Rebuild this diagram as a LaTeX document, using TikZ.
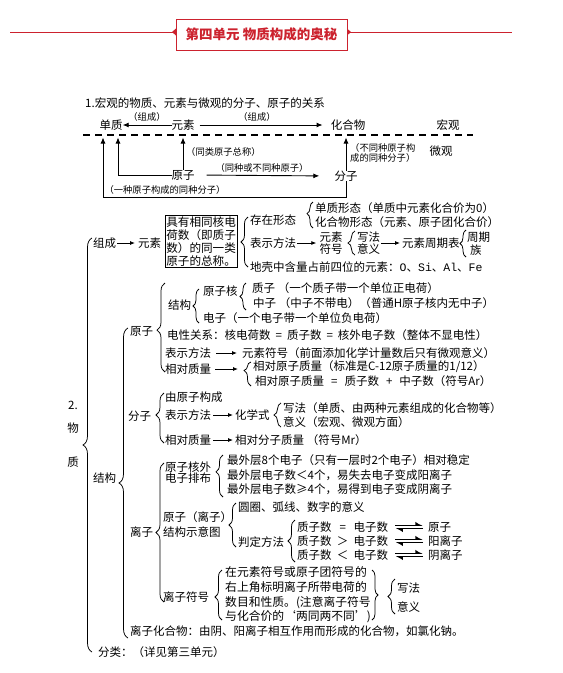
\documentclass[tikz,border=0pt]{standalone}
\usepackage{fontspec}
\newfontfamily\cjk{Noto Sans CJK SC}
\newfontfamily\lmono{Liberation Mono}
\usetikzlibrary{arrows.meta,decorations.pathreplacing}
\definecolor{tred}{RGB}{204,34,46}
\begin{document}
\begin{tikzpicture}[x=1pt,y=-1pt,
  txt/.style={anchor=west,inner sep=0pt,font=\cjk\fontsize{11.5}{13}\selectfont},
  ctr/.style={inner sep=0pt,font=\cjk\fontsize{11.5}{13}\selectfont},
  sml/.style={inner sep=0pt,font=\cjk\fontsize{9.3}{10.5}\selectfont},
  arr/.style={-{Latex[length=5pt,width=4pt]},line width=0.8pt},
  arrA/.style={-{Latex[length=6pt,width=5pt]},line width=0.9pt},
  eqa/.style={-{Latex[left,length=6pt,width=7pt]},line width=1.2pt},
  brc/.style={decorate,decoration={brace,amplitude=#1},line width=0.75pt},
  brc/.default=7pt]
\useasboundingbox (0,0) rectangle (563,673);
\fill[white] (0,0) rectangle (563,673);

% ---------- title ----------
\node[draw=tred,line width=0.9pt,minimum width=171pt,minimum height=31pt,inner sep=0pt,
  text=tred,font=\cjk\bfseries\fontsize{13.5}{15}\selectfont] (title) at (261.5,34.5) {第四单元 物质构成的奥秘};
\coordinate (tl) at (10,32);
\coordinate (tr) at (512,32);
\draw[tred,line width=0.8pt] (tl) -- ([yshift=2.5pt]title.west);
\draw[tred,line width=0.8pt] ([yshift=2.5pt]title.east) -- (tr);
\fill[tred] (176,28.5) -- (172,32) -- (176,35.5) -- cycle;
\fill[tred] (347,28.5) -- (351,32) -- (347,35.5) -- cycle;

% ---------- section 1 ----------
\node[txt] (h1) at (85,103) {1.宏观的物质、元素与微观的分子、原子的关系};
\node[ctr] (dz) at (111,125) {单质};
\node[ctr] (ys1) at (183,125) {元素};
\node[ctr] (hhw) at (348,125) {化合物};
\node[ctr] (hg) at (448,125) {宏观};
\node[ctr] (wg) at (441,151) {微观};
\node[sml] (zc1) at (147,117) {（组成）};
\node[sml] (zc2) at (257,117) {（组成）};
\coordinate (dl1) at (83,135);
\coordinate (dl2) at (473,135);
\draw[line width=1.4pt,dash pattern=on 7pt off 5pt] (dl1) -- (dl2);
\draw[arrA,shorten <=-1pt,shorten >=0pt] (ys1.west) -- (dz.east);
\draw[arrA,shorten <=5pt,shorten >=8pt] (ys1.east) -- (hhw.west);

\node[ctr] (yz) at (183,175) {原子};
\node[ctr] (fz) at (346,176) {分子};
\node[sml,anchor=west] (tlz) at (186,152) {（同类原子总称）};
\node[sml] (tzb) at (262,168) {（同种或不同种原子）};
\node[sml,anchor=west,align=left] (btz) at (350,153) {（不同种原子构\\成的同种分子）};
\node[sml] (yzg) at (165,190) {（一种原子构成的同种分子）};
\coordinate (u1) at (118,137.5);
\coordinate (u2) at (103,137.5);
\coordinate (b2) at (103,197);
\coordinate (u3) at (183,137.5);
\coordinate (u4) at (346,137.5);
\draw[arrA] (yz.north) -- (u3);
\draw[arrA,shorten <=-1pt] (yz.west) -| (u1);
\draw[arrA,shorten <=12pt,shorten >=15pt] (yz.east) -- (fz.west);
\draw[arrA] (fz.north) -- (u4);
\draw[arrA] (fz.south) |- (b2) -- (u2);

% ---------- section 2 ----------
\node[ctr] (n2) at (73,405) {2.};
\node[ctr] (nw) at (73,428) {物};
\node[ctr] (nz) at (73,462) {质};
\draw[brc=9pt] (92,652) -- (92,238);

% 组成 -> 元素
\node[txt] (zc) at (93,243) {组成};
\node[txt] (ys2) at (138,243) {元素};
\draw[arr,shorten <=1pt,shorten >=3pt] (zc.east) -- (ys2.west);
\node[draw,line width=0.6pt,inner sep=1pt,align=left,anchor=west,
  font=\cjk\fontsize{11.6}{13.2}\selectfont] (def) at (165,241.5) {具有相同核电\\荷数（即质子\\数）的同一类\\原子的总称。};
\draw[brc=7pt] (248,267) -- (248,217);
\node[txt] (czxt) at (250,220) {存在形态};
\draw[brc=6pt,decoration={aspect=0.55}] (313,228) -- (313,202);
\node[txt] (dzxt) at (315,208) {单质形态（单质中元素化合价为0）};
\node[txt] (hxt) at (315,222) {化合物形态（元素、原子团化合价）};
\node[txt] (bsff1) at (250,243) {表示方法};
\node[ctr,align=center,font=\cjk\fontsize{11.5}{11.5}\selectfont] (ysfh) at (331,243) {元素\\符号};
\draw[arr,shorten <=1pt,shorten >=3pt] (bsff1.east) -- (ysfh.west);
\draw[brc=7pt] (355,255) -- (355,231);
\node[txt,align=left,font=\cjk\fontsize{11.5}{11.5}\selectfont] (xfyy1) at (357,243) {写法\\意义};
\node[txt] (zqb) at (402,243) {元素周期表};
\draw[arr,shorten <=1pt,shorten >=2pt] (xfyy1.east) -- (zqb.west);
\draw[brc=6pt] (466,257) -- (466,230);
\node[txt] (zq) at (467,237) {周期};
\node[txt] (zu) at (470,250) {族};
\node[txt] (dq) at (250,267) {地壳中含量占前四位的元素：{\lmono O}、{\lmono Si}、{\lmono Al}、{\lmono Fe}};

% 结构
\node[txt] (jg) at (93,478) {结构};
\draw[brc=9pt] (128,638) -- (128,328);

% 原子
\node[txt] (yz2) at (130,331) {原子};
\draw[brc=8pt,decoration={aspect=0.47}] (165,372) -- (165,283);
\node[txt] (jg2) at (168,305) {结构};
\draw[brc=6pt] (199,323) -- (199,289);
\node[txt] (yzh) at (203,291) {原子核};
\draw[brc=6pt] (246,310) -- (246,283);
\node[txt] (zz) at (252,288) {质子 （一个质子带一个单位正电荷）};
\node[txt] (zhz) at (253,303) {中子 （中子不带电）（普通H原子核内无中子）};
\node[txt] (dzz) at (203,318) {电子（一个电子带一个单位负电荷）};
\node[txt] (dxgx) at (167,335) {电性关系：核电荷数\hspace{5pt}=\hspace{5pt}质子数\hspace{5pt}=\hspace{5pt}核外电子数（整体不显电性）};
\node[txt] (bsff2) at (165,353) {表示方法};
\node[txt] (ysfh2) at (242,353) {元素符号（前面添加化学计量数后只有微观意义）};
\draw[arr,shorten <=5pt,shorten >=5pt] (bsff2.east) -- (ysfh2.west);
\node[txt] (xdzl1) at (165,369) {相对质量};
\coordinate (bt1) at (238,369);
\draw[arr,shorten <=4pt] (xdzl1.east) -- (bt1);
\draw[brc=7pt,decoration={aspect=0.65}] (251,386) -- (251,362);
\node[txt] (xdyz1) at (253,367) {相对原子质量（标准是C-12原子质量的1/12）};
\node[txt] (xdyz2) at (255,381) {相对原子质量\hspace{7pt}=\hspace{7pt}质子数\hspace{7pt}+\hspace{7pt}中子数（符号Ar）};

% 分子
\node[txt] (fz2) at (128,416) {分子};
\draw[brc=8pt,decoration={aspect=0.56}] (164,443) -- (164,393);
\node[txt] (yyzgc) at (165,397) {由原子构成};
\node[txt] (bsff3) at (165,415) {表示方法};
\node[txt] (hxs) at (235,415) {化学式};
\draw[arr,shorten <=2pt,shorten >=2pt] (bsff3.east) -- (hxs.west);
\draw[brc=7pt] (281,427) -- (281,403);
\node[txt] (xf3) at (283,408) {写法（单质、由两种元素组成的化合物等）};
\node[txt] (yy3) at (283,422) {意义（宏观、微观方面）};
\node[txt] (xdzl2) at (165,440) {相对质量};
\node[txt] (xdfz) at (235,440) {相对分子质量 （符号Mr）};
\draw[arr,shorten <=2pt,shorten >=2pt] (xdzl2.east) -- (xdfz.west);

% 离子
\node[txt] (lz) at (130,532) {离子};
\draw[brc=8pt] (164,602) -- (164,463);
\node[txt,align=left,font=\cjk\fontsize{11.5}{11.5}\selectfont] (hw) at (165,472.5) {原子核外\\电子排布};
\draw[brc=7pt,decoration={aspect=0.6}] (223,497) -- (223,455);
\node[txt] (zw1) at (227,460) {最外层8个电子（只有一层时2个电子）相对稳定};
\node[txt] (zw2) at (227,475) {最外层电子数＜4个，易失去电子变成阳离子};
\node[txt] (zw3) at (227,489) {最外层电子数≥4个，易得到电子变成阴离子};
\node[txt,align=left,font=\cjk\fontsize{11.5}{15}\selectfont] (jgsyt) at (163,524.5) {原子（离子）\\结构示意图};
\draw[brc=7pt] (236,547) -- (236,503);
\node[txt] (yq) at (238,507) {圆圈、弧线、数字的意义};
\node[txt] (pdff) at (238,542) {判定方法};
\draw[brc=7pt] (295,562) -- (295,520);
\node[txt] (r1) at (297,527) {质子数\makebox[22pt][c]{=}电子数};
\node[txt] (r2) at (297,541) {质子数\makebox[22pt][c]{＞}电子数};
\node[txt] (r3) at (297,555) {质子数\makebox[22pt][c]{＜}电子数};
\node[txt] (a1) at (428,527) {原子};
\node[txt] (a2) at (428,541) {阳离子};
\node[txt] (a3) at (428,555) {阴离子};
\foreach \r/\a in {r1/a1,r2/a2,r3/a3}{
  \draw[eqa,shorten <=7pt,shorten >=5pt] ([yshift=1.8pt]\r.east) -- ([yshift=1.8pt]\a.west);
  \draw[eqa,shorten <=5pt,shorten >=7pt] ([yshift=-1.8pt]\a.west) -- ([yshift=-1.8pt]\r.east);
}
\node[txt] (lzfh) at (163,597) {离子符号};
\draw[brc=7pt,decoration={aspect=0.46}] (222,620) -- (222,570);
\node[txt,align=left,font=\cjk\fontsize{11.8}{14.7}\selectfont] (lzdef) at (225,595) {在元素符号或原子团符号的\\右上角标明离子所带电荷的\\数目和性质。(注意离子符号\\与化合价的‘两同两不同’)};
\draw[brc=6pt] (372,570) -- (372,620);
\draw[brc=7pt] (395,614) -- (395,579);
\node[txt] (xf4) at (397,588) {写法};
\node[txt] (yy4) at (397,607) {意义};
\node[txt] (lzhhw) at (130,631) {离子化合物：由阴、阳离子相互作用而形成的化合物，如氯化钠。};
\node[txt] (fl) at (98,652) {分类：（详见第三单元）};
\end{tikzpicture}
\end{document}
